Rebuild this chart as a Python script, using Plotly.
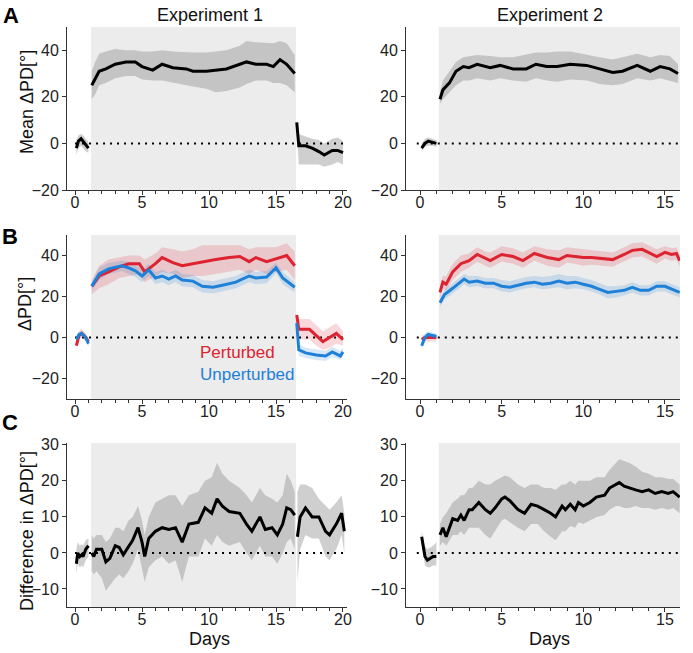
import plotly.graph_objects as go

# ---- Panel A: mean change in PD ----
a1_pre_x = [0.1, 0.25, 0.45, 0.6, 0.8, 1.0]
a1_pre_y = [-2, 1, 2, 1, -0.5, -2]
a1_pre_hi = [1, 3.5, 4, 3.5, 2, 0.5]
a1_pre_lo = [-5, -2, -1, -2, -3.5, -4]

a1_on_x = [1.25, 1.5, 1.8, 2.3, 3.0, 3.8, 4.5, 5.0, 5.8, 6.5, 7.3, 8.3, 8.8, 9.8, 10.5, 11.3, 12.3, 12.8, 13.5, 14.3, 14.8, 15.3, 15.8, 16.4]
a1_on_y = [25, 28, 31, 32, 34, 35, 35, 33, 31.5, 34, 32.5, 32, 31, 31, 31.5, 32, 34, 35, 34, 34, 33, 36, 34, 30]
a1_on_hi = [31, 35, 38.5, 39.5, 40.5, 40, 40, 39.5, 39.5, 40, 39.5, 39, 39, 39, 39.5, 40, 42, 44, 43.5, 43, 43, 44, 43, 38]
a1_on_lo = [19, 21, 25, 26, 28, 29, 29, 27.5, 27, 27, 26, 25, 24.5, 23.5, 22, 22.5, 24, 25.5, 27, 27, 26, 26, 25, 22]

a1_post_x = [16.55, 16.7, 17.2, 17.7, 18.2, 18.6, 19.2, 19.6, 20.0]
a1_post_y = [9, -1, -1, -2, -3.5, -5, -3, -3, -4]
a1_post_hi = [10, 4, 3, 2, 1.5, 0, 2, 2.5, 1]
a1_post_lo = [7, -9, -9, -9, -9, -10, -9, -8, -9]

a2_pre_x = [0.1, 0.3, 0.5, 0.8, 1.0]
a2_pre_y = [-2, 0, 1, 0.5, 0]
a2_pre_hi = [0, 2, 2.5, 2, 1.5]
a2_pre_lo = [-3, -1.5, -1, -1, -1.5]

a2_on_x = [1.22, 1.4, 1.8, 2.2, 2.65, 3.0, 3.5, 4.3, 4.9, 5.7, 6.5, 7.1, 7.75, 8.4, 9.2, 10.2, 11.0, 11.8, 12.4, 13.3, 14.1, 14.7, 15.3, 15.8]
a2_on_y = [19, 23, 26, 31, 33, 32.5, 34, 32.5, 33.5, 32, 32, 34, 33, 33, 34, 33.5, 32, 30.5, 31, 33.5, 31, 33, 32, 30]
a2_on_hi = [22, 27, 31, 35, 37, 37.5, 38, 37.5, 37, 37, 38, 39, 39, 39.5, 39.5, 38, 37, 36, 37, 38.5, 37, 38, 37.5, 34]
a2_on_lo = [17, 19, 22, 25, 27, 27, 28, 27, 28, 27, 26.5, 28, 27, 26.5, 27.5, 27, 25.5, 25, 25.5, 28, 27, 28, 27, 26]

# ---- Panel B: perturbed vs unperturbed ----
b1p_pre_x = [0.1, 0.3, 0.5, 0.8, 1.0]
b1p_pre_y = [-4, 1, 2, 0, -2]
b1p_pre_hi = [-2, 3, 4, 2, 0]
b1p_pre_lo = [-6, -1, 0, -2, -4]
b1u_pre_y = [-1, 1.5, 2, 0, -3]
b1u_pre_hi = [0.5, 3, 3.5, 1.5, -1.5]
b1u_pre_lo = [-2.5, 0, 0.5, -1.5, -4.5]

b1p_on_x = [1.25, 1.8, 2.5, 3.3, 4.0, 4.8, 5.2, 6.0, 6.5, 7.3, 8.0, 8.8, 9.5, 10.5, 11.5, 12.3, 13.0, 13.5, 14.3, 15.0, 15.8, 16.4]
b1p_on_y = [25, 30, 32, 34.5, 36, 36, 32, 36, 39, 36.5, 35, 36, 37, 38, 39, 39.5, 37, 39, 37, 38.5, 40, 35]
b1p_on_hi = [28, 35, 38, 39, 40, 40, 38, 41, 44, 43, 42, 43, 45, 45, 45, 45, 43, 44, 44, 44, 46, 42]
b1p_on_lo = [21, 24, 26, 29, 30, 31, 27, 30, 32, 31, 29, 30, 30, 31, 32, 33, 31, 33, 31, 32, 33, 28]

b1u_on_x = [1.25, 1.8, 2.5, 3.5, 4.0, 4.5, 5.0, 5.5, 6.0, 6.5, 7.0, 7.5, 8.0, 8.8, 9.5, 10.3, 11.0, 12.0, 13.0, 13.5, 14.3, 15.0, 15.5, 16.4]
b1u_on_y = [25, 31, 33.5, 35, 34, 32.5, 30, 33, 29, 30, 28.5, 30, 28, 27.5, 25, 24.5, 25.5, 27, 30, 29, 29.5, 34, 29, 24.5]
b1u_on_hi = [27, 34, 36.5, 37.5, 37, 35.5, 33, 36, 32, 33, 31.5, 33, 31, 30.5, 28, 27.5, 28.5, 30, 33, 32, 32.5, 36.5, 32, 27]
b1u_on_lo = [23, 28, 31, 32.5, 31, 29.5, 27, 30, 26, 27, 25.5, 27, 25, 24.5, 22, 21.5, 22.5, 24, 27, 26, 26.5, 31.5, 26, 22]

b1p_post_x = [16.55, 16.7, 17.5, 18.0, 18.5, 19.0, 19.5, 20.0]
b1p_post_y = [11, 4, 4, 1, -2, 0, 2, -1]
b1p_post_hi = [12, 9, 9, 6, 3, 5, 7, 3]
b1p_post_lo = [9, -1, -1, -4, -6, -5, -3, -4]
b1u_post_x = [16.55, 16.7, 17.2, 18.0, 18.7, 19.2, 19.8, 20.0]
b1u_post_y = [7, -6, -7.5, -8.5, -9, -7, -9, -7]
b1u_post_hi = [8, -3, -5, -6, -6.5, -4.5, -6.5, -5]
b1u_post_lo = [5, -9, -10, -11, -11.5, -9.5, -11, -9.5]

b2_pre_x = [0.1, 0.3, 0.5, 0.8, 1.0]
b2p_pre_y = [-1, 0, 0, 0, 0]
b2p_pre_hi = [1, 1.5, 1.5, 1.5, 1.5]
b2p_pre_lo = [-3, -2, -2, -2, -2]
b2u_pre_y = [-4, 0, 1.5, 1, 0.5]
b2u_pre_hi = [-2, 2, 3, 2.5, 2]
b2u_pre_lo = [-6, -2, 0, -0.5, -1]

b2p_on_x = [1.22, 1.4, 1.6, 2.0, 2.5, 3.0, 3.5, 4.0, 4.3, 5.0, 5.7, 6.3, 7.0, 7.8, 8.5, 9.0, 9.5, 10.0, 10.5, 11.2, 11.8, 12.5, 13.0, 13.6, 14.1, 14.5, 15.0, 15.4, 15.7, 15.9]
b2p_on_y = [22, 27, 26, 32, 36, 37.5, 40.5, 38.5, 37.5, 40.5, 39.5, 37.5, 41, 39, 38, 40, 39.5, 39, 39, 38.5, 38, 40.5, 42.5, 43, 41, 39.5, 41.5, 40.5, 41, 37.5]
b2p_on_hi = [25, 30, 30, 36, 40, 41, 44, 42, 41.5, 44.5, 43.5, 41.5, 44.5, 43, 42.5, 44, 43.5, 43, 42.5, 42, 41.5, 44, 46, 46.5, 44.5, 43, 44.5, 43.5, 44, 40.5]
b2p_on_lo = [19, 24, 23, 28, 32, 34, 37, 35, 34, 37, 36, 34, 37.5, 35, 34, 36.5, 36, 35, 35.5, 35, 34.5, 37, 39, 39.5, 37.5, 36, 38.5, 37.5, 38, 34.5]

b2u_on_x = [1.22, 1.5, 2.0, 2.5, 2.7, 3.0, 3.5, 4.0, 4.5, 5.0, 5.5, 6.0, 6.5, 7.0, 7.5, 8.0, 8.5, 9.0, 9.5, 10.0, 10.5, 11.0, 11.5, 12.0, 12.5, 13.0, 13.5, 14.0, 14.5, 15.0, 15.5, 15.9]
b2u_on_y = [17, 21, 24, 27, 28.5, 27, 27.5, 26.5, 26.5, 25, 24.5, 25.5, 26.5, 27, 26, 26.5, 27.5, 26.5, 27, 26, 25, 23.5, 22, 22.5, 23, 24.5, 23, 23, 25, 25, 23.5, 22]
b2u_on_hi = [19, 23.5, 26.5, 29.5, 31, 30, 30, 29, 29, 28, 27.5, 28.5, 29.5, 30, 29.5, 30, 31, 30, 30, 29, 28, 26.5, 25, 25, 25.5, 27, 25.5, 25.5, 27.5, 27.5, 26, 24.5]
b2u_on_lo = [15, 18.5, 21.5, 24.5, 26, 24.5, 25, 24, 24, 22.5, 22, 23, 24, 24.5, 23.5, 24, 24.5, 23.5, 24, 23.5, 22.5, 21, 19, 19.5, 20.5, 22, 20.5, 20.5, 22.5, 22.5, 21, 19.5]

# ---- Panel C: difference perturbed - unperturbed ----
c1_pre_x = [0.1, 0.2, 0.35, 0.5, 0.6, 0.8, 1.0]
c1_pre_y = [-3, 0, -1, -0.5, -1, 1, 2]
c1_pre_hi = [1, 3, 2, 2.5, 2, 3.5, 4]
c1_pre_lo = [-6, -3, -4, -3.5, -4, -2, -1]

c1_on_x = [1.25, 1.4, 1.6, 2.0, 2.3, 2.6, 3.0, 3.3, 3.6, 4.0, 4.3, 4.7, 5.0, 5.2, 5.5, 6.0, 6.5, 7.0, 7.5, 8.0, 8.5, 9.2, 9.7, 10.2, 10.6, 11.0, 11.5, 12.3, 12.8, 13.2, 13.8, 14.2, 14.7, 15.1, 15.5, 15.8, 16.1, 16.4]
c1_on_y = [0, -1, 1, 1, -2.5, -1.5, 2, 1.5, -0.5, 2, 3.5, 7, 3, -1, 4, 6, 7, 6.5, 7, 3, 8, 8.5, 12.5, 11, 15, 13, 11.5, 11, 8, 6, 10, 6.5, 7, 5, 8, 12.5, 12, 10.5]
c1_on_hi = [5, 4, 5, 5, 3, 4, 7, 7, 6, 9, 10, 13, 9, 5, 10, 14, 15, 16, 16, 13, 16, 17, 20, 21, 25, 22, 20, 18, 16, 14, 18, 16, 15, 14, 16, 22, 20, 17]
c1_on_lo = [-5, -6, -5, -7, -10.5, -9, -7, -6, -7, -5, -3, 1, -4, -8, -4, -2, -1, -3, -2, -8, -1, -1, 4, 2, 5, 3, 2, 3, 0, -2, 2, -1, -1, -3, 0, 3, 4, 1]

c1_post_x = [16.6, 16.8, 17.2, 17.7, 18.2, 18.7, 19.0, 19.5, 19.9, 20.1]
c1_post_y = [4.5, 10, 12.5, 10, 10, 6, 5, 8, 11, 6]
c1_post_hi = [17, 19, 19, 18, 15, 13, 12, 14, 16, 11]
c1_post_lo = [-8, 1, 5, 4, 4, -1, -2, 1, 5, 0]

c2_pre_x = [0.1, 0.3, 0.45, 0.6, 0.8, 1.0]
c2_pre_y = [4.5, -1, -2, -1.5, -1, -1]
c2_pre_hi = [6, 2, 1, 1.5, 2, 3]
c2_pre_lo = [3, -3.5, -4, -4, -3.5, -3.5]

c2_on_x = [1.22, 1.4, 1.6, 2.0, 2.3, 2.5, 2.7, 3.0, 3.2, 3.6, 4.0, 4.3, 4.6, 5.0, 5.2, 5.5, 6.0, 6.4, 6.8, 7.2, 7.6, 8.0, 8.3, 8.7, 8.9, 9.2, 9.5, 9.7, 10.0, 10.4, 10.8, 11.3, 11.6, 12.0, 12.2, 12.5, 12.8, 13.2, 13.6, 14.0, 14.4, 14.8, 15.2, 15.5, 15.9]
c2_on_y = [5, 7, 4.5, 9.5, 9, 10.5, 9, 12, 12, 14, 12, 11, 12.5, 15, 15.5, 14.5, 12, 11, 13.5, 13, 12, 11, 10, 13, 12, 13.5, 12, 14, 13, 14, 15.5, 16, 18, 19, 19.5, 18.5, 18, 17.5, 17, 17.5, 16.5, 17, 16.5, 17, 15.5]
c2_on_hi = [8, 10, 11, 14, 15, 16, 16, 18, 18, 20, 19, 19, 20, 21, 21.5, 21, 19, 18, 19, 19, 18, 18, 17.5, 19, 19, 20, 19, 20, 20, 20, 21, 21, 23, 25, 26, 25.5, 25, 24, 22.5, 22, 21, 21, 20.5, 20.5, 19]
c2_on_lo = [2, 3, 2, 5, 5, 6, 5, 7, 7, 7, 5, 4, 6, 9, 9.5, 8.5, 7, 6, 8, 8, 6, 4.5, 3.5, 6, 6, 7.5, 7, 8.5, 8, 9, 10, 10.5, 12, 13, 13, 12.5, 12.5, 13, 12.5, 12.5, 12, 12.5, 12, 12.5, 11]

# perturbation period and zero reference
exp1_perturb = [1.2, 16.5]
exp2_perturb = [1.15, 15.92]
exp1_zero_x = [0, 20.1]
exp2_zero_x = [-0.2, 15.9]

FONT = "Liberation Sans, Arial, Helvetica, sans-serif"
RED = "#dd2230"
BLUE = "#1f80d8"
GRAY_BAND = "rgba(140,140,140,0.42)"
RED_BAND = "rgba(221,34,48,0.18)"
BLUE_BAND = "rgba(31,128,216,0.18)"

W, H = 693, 653


def px(v):
    return v / W


def py(v):
    return 1 - v / H


col_x = [[px(67), px(347)], [px(406), px(680)]]
row_y = [[py(190), py(27)], [py(399), py(235)], [py(607), py(443)]]
x_ranges = [[-0.6, 20.3], [-0.86, 15.92]]
y_ranges = [[-20, 50], [-30, 50], [-15, 30.5]]
y_ticks = [[-20, 0, 20, 40], [-20, 0, 20, 40], [-10, 0, 10, 20, 30]]

fig = go.Figure()


def ax(n):
    return ("x" if n == 1 else f"x{n}"), ("y" if n == 1 else f"y{n}")


def band(n, x, lo, hi, color):
    xa, ya = ax(n)
    fig.add_trace(go.Scatter(x=list(x) + list(x)[::-1], y=list(hi) + list(lo)[::-1],
                             fill="toself", fillcolor=color, line=dict(width=0),
                             mode="lines", hoverinfo="skip", showlegend=False,
                             xaxis=xa, yaxis=ya))


def line(n, x, y, color):
    xa, ya = ax(n)
    fig.add_trace(go.Scatter(x=x, y=y, mode="lines", line=dict(color=color, width=3),
                             showlegend=False, xaxis=xa, yaxis=ya))


def zero(n, xs):
    xa, ya = ax(n)
    fig.add_trace(go.Scatter(x=xs, y=[0, 0], mode="lines",
                             line=dict(color="black", width=2, dash="2px,5px"),
                             showlegend=False, hoverinfo="skip", xaxis=xa, yaxis=ya))


# panel A
band(1, a1_pre_x, a1_pre_lo, a1_pre_hi, GRAY_BAND)
band(1, a1_on_x, a1_on_lo, a1_on_hi, GRAY_BAND)
band(1, a1_post_x, a1_post_lo, a1_post_hi, GRAY_BAND)
zero(1, exp1_zero_x)
line(1, a1_pre_x, a1_pre_y, "black")
line(1, a1_on_x, a1_on_y, "black")
line(1, a1_post_x, a1_post_y, "black")

band(2, a2_pre_x, a2_pre_lo, a2_pre_hi, GRAY_BAND)
band(2, a2_on_x, a2_on_lo, a2_on_hi, GRAY_BAND)
zero(2, exp2_zero_x)
line(2, a2_pre_x, a2_pre_y, "black")
line(2, a2_on_x, a2_on_y, "black")

# panel B
band(3, b1p_pre_x, b1p_pre_lo, b1p_pre_hi, RED_BAND)
band(3, b1p_pre_x, b1u_pre_lo, b1u_pre_hi, BLUE_BAND)
band(3, b1p_on_x, b1p_on_lo, b1p_on_hi, RED_BAND)
band(3, b1u_on_x, b1u_on_lo, b1u_on_hi, BLUE_BAND)
band(3, b1p_post_x, b1p_post_lo, b1p_post_hi, RED_BAND)
band(3, b1u_post_x, b1u_post_lo, b1u_post_hi, BLUE_BAND)
zero(3, exp1_zero_x)
line(3, b1p_pre_x, b1p_pre_y, RED)
line(3, b1p_pre_x, b1u_pre_y, BLUE)
line(3, b1p_on_x, b1p_on_y, RED)
line(3, b1u_on_x, b1u_on_y, BLUE)
line(3, b1p_post_x, b1p_post_y, RED)
line(3, b1u_post_x, b1u_post_y, BLUE)

band(4, b2_pre_x, b2p_pre_lo, b2p_pre_hi, RED_BAND)
band(4, b2_pre_x, b2u_pre_lo, b2u_pre_hi, BLUE_BAND)
band(4, b2p_on_x, b2p_on_lo, b2p_on_hi, RED_BAND)
band(4, b2u_on_x, b2u_on_lo, b2u_on_hi, BLUE_BAND)
zero(4, exp2_zero_x)
line(4, b2_pre_x, b2p_pre_y, RED)
line(4, b2_pre_x, b2u_pre_y, BLUE)
line(4, b2p_on_x, b2p_on_y, RED)
line(4, b2u_on_x, b2u_on_y, BLUE)

# panel C
band(5, c1_pre_x, c1_pre_lo, c1_pre_hi, GRAY_BAND)
band(5, c1_on_x, c1_on_lo, c1_on_hi, GRAY_BAND)
band(5, c1_post_x, c1_post_lo, c1_post_hi, GRAY_BAND)
zero(5, exp1_zero_x)
line(5, c1_pre_x, c1_pre_y, "black")
line(5, c1_on_x, c1_on_y, "black")
line(5, c1_post_x, c1_post_y, "black")

band(6, c2_pre_x, c2_pre_lo, c2_pre_hi, GRAY_BAND)
band(6, c2_on_x, c2_on_lo, c2_on_hi, GRAY_BAND)
zero(6, exp2_zero_x)
line(6, c2_pre_x, c2_pre_y, "black")
line(6, c2_on_x, c2_on_y, "black")

layout = dict(width=W, height=H, margin=dict(l=0, r=0, t=0, b=0, autoexpand=False),
              plot_bgcolor="white", paper_bgcolor="white",
              font=dict(family=FONT, size=16, color="#222"), showlegend=False)
shapes = []
for r in range(3):
    for c in range(2):
        n = r * 2 + c + 1
        xk = "xaxis" if n == 1 else f"xaxis{n}"
        yk = "yaxis" if n == 1 else f"yaxis{n}"
        xa, ya = ax(n)
        layout[xk] = dict(domain=col_x[c], range=x_ranges[c], anchor=ya, automargin=False,
                          showline=True, linecolor="#333", linewidth=1,
                          ticks="outside", ticklen=4, tickcolor="#333",
                          ticklabelstandoff=-6,
                          tickvals=[0, 5, 10, 15, 20] if c == 0 else [0, 5, 10, 15],
                          minor=dict(ticks="outside", dtick=1, tick0=0, ticklen=3, tickcolor="#333"),
                          showgrid=False, zeroline=False,
                          tickfont=dict(size=16, color="#222"))
        layout[yk] = dict(domain=row_y[r], range=y_ranges[r], anchor=xa, automargin=False,
                          showline=True, linecolor="#333", linewidth=1,
                          ticks="outside", ticklen=4, tickcolor="#333",
                          tickvals=y_ticks[r], showgrid=False, zeroline=False,
                          tickfont=dict(size=16, color="#222"))
        per = exp1_perturb if c == 0 else exp2_perturb
        shapes.append(dict(type="rect", xref=xa, yref=ya, x0=per[0], x1=per[1],
                           y0=y_ranges[r][0], y1=y_ranges[r][1],
                           fillcolor="#ececec", line=dict(width=0), layer="below"))
layout["shapes"] = shapes


def ann(text, x, y, size=17, color="#111", angle=0, xanchor="center", bold=False):
    return dict(text=f"<b>{text}</b>" if bold else text, x=px(x), y=py(y),
                xref="paper", yref="paper", showarrow=False, textangle=angle,
                xanchor=xanchor, yanchor="middle",
                font=dict(family=FONT, size=size, color=color))


layout["annotations"] = [
    ann("A", 11, 15, size=22, color="black", bold=True),
    ann("B", 10, 236, size=22, color="black", bold=True),
    ann("C", 10, 422, size=22, color="black", bold=True),
    ann("Experiment 1", 210, 15, size=18),
    ann("Experiment 2", 550, 15, size=18),
    ann("Mean ΔPD[°]", 27, 102, size=18, angle=-90),
    ann("ΔPD[°]", 25, 304, size=18, angle=-90),
    ann("Difference in ΔPD[°]", 27, 531, size=18, angle=-90),
    ann("Days", 209, 639, size=18),
    ann("Days", 549, 639, size=18),
    ann("Perturbed", 198, 352, size=17, color=RED, xanchor="left"),
    ann("Unperturbed", 198, 374, size=17, color=BLUE, xanchor="left"),
]

fig.update_layout(**layout)
fig.write_html("out.html", config={"displayModeBar": False},
               post_script="document.body.style.margin='0';")
